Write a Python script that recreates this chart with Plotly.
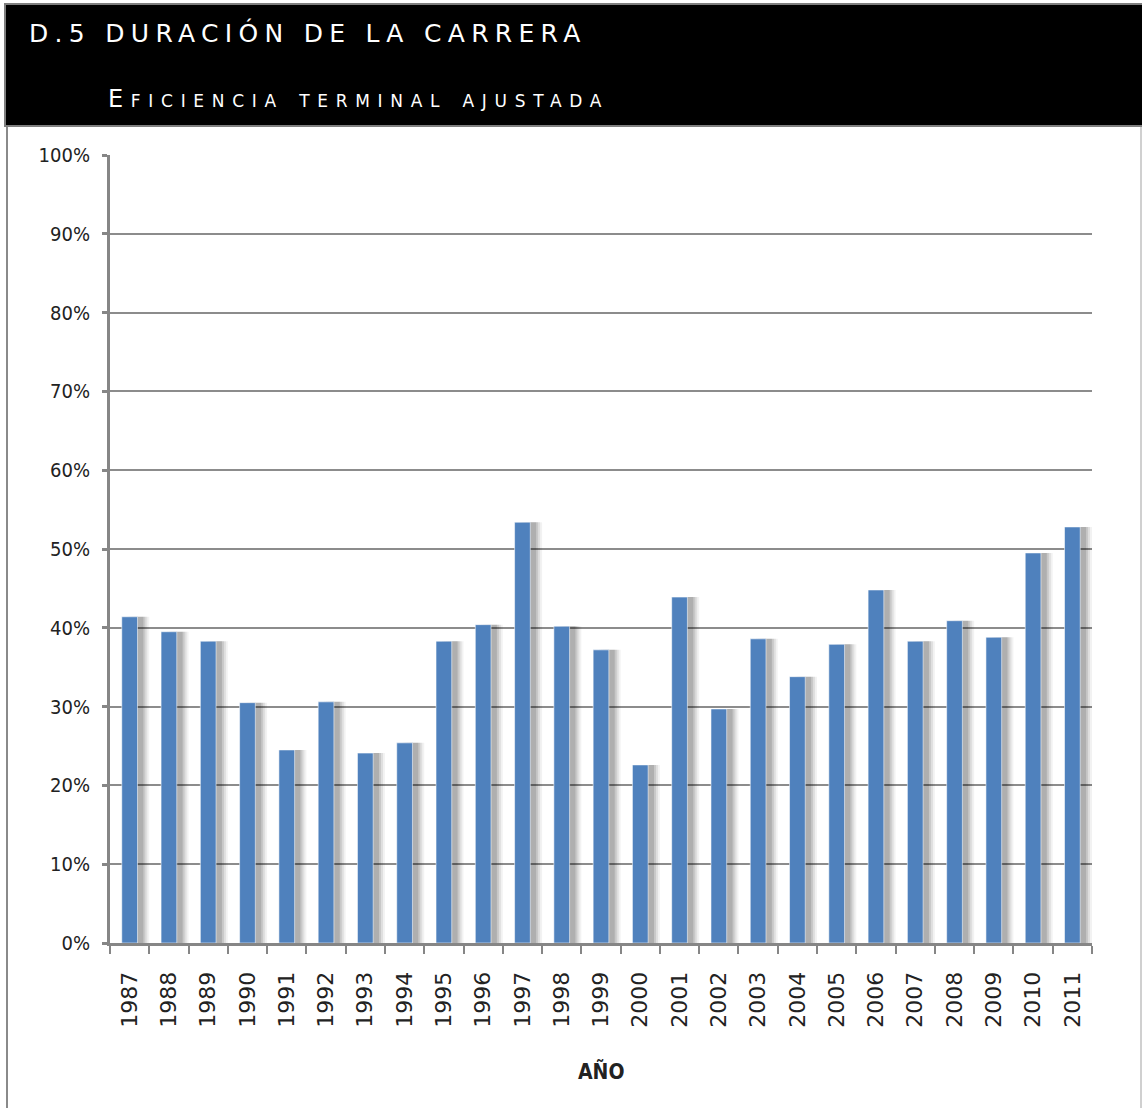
import plotly.graph_objects as go

years = ["1987", "1988", "1989", "1990", "1991", "1992", "1993", "1994", "1995", "1996",
         "1997", "1998", "1999", "2000", "2001", "2002", "2003", "2004", "2005", "2006",
         "2007", "2008", "2009", "2010", "2011"]
eficiencia = [0.414, 0.395, 0.383, 0.305, 0.245, 0.306, 0.241, 0.254, 0.383, 0.404,
              0.534, 0.402, 0.372, 0.226, 0.439, 0.297, 0.386, 0.338, 0.379, 0.448,
              0.383, 0.409, 0.388, 0.495, 0.528]
y_ticks = [0, 0.1, 0.2, 0.3, 0.4, 0.5, 0.6, 0.7, 0.8, 0.9, 1.0]

title_text = "D.5 DURACIÓN DE LA CARRERA"
subtitle_text = "Eficiencia terminal ajustada"
x_title = "AÑO"

W, H = 1142, 1108
L, R, T, B = 110, 1092, 155, 943  # plot area in pixels


def px(x):
    return (x - L) / (R - L)


def py(y):
    return (B - y) / (B - T)


BLUE = "#4F81BD"
GRID = "#8c8c8c"
AXIS = "#868686"

fig = go.Figure()

# soft shadows on the right of the bars
for off, alpha in [(0.30, 0.05), (0.25, 0.08), (0.20, 0.10), (0.15, 0.12)]:
    fig.add_trace(go.Bar(
        x=years, y=eficiencia, width=0.4, offset=-0.2 + off,
        marker=dict(color=f"rgba(0,0,0,{alpha})", line=dict(width=0)),
        hoverinfo="skip", showlegend=False,
    ))

fig.add_trace(go.Bar(
    x=years, y=eficiencia, width=0.4, offset=-0.2,
    marker=dict(color=BLUE, line=dict(color="rgba(255,255,255,0.55)", width=1)),
    showlegend=False, name="Eficiencia terminal ajustada",
))

fig.update_layout(
    width=W, height=H,
    margin=dict(l=L, r=W - R, t=T, b=H - B, pad=0),
    paper_bgcolor="white", plot_bgcolor="white",
    barmode="overlay",
    font=dict(family="DejaVu Sans Condensed, DejaVu Sans", color="#222"),
    xaxis=dict(
        type="category", tickangle=-90,
        tickfont=dict(family="DejaVu Sans", size=22, color="#222"),
        showline=True, linecolor=AXIS, linewidth=3,
        ticks="outside", tickson="boundaries", ticklen=8, tickwidth=2, tickcolor=AXIS,
        showgrid=False, ticklabelstandoff=17,
        range=[-0.5, 24.5],
    ),
    yaxis=dict(
        range=[0, 1], tickvals=y_ticks, tickformat=".0%",
        tickfont=dict(family="DejaVu Sans Condensed, DejaVu Sans", size=20, color="#222"),
        showline=True, linecolor=AXIS, linewidth=3,
        ticks="outside", ticklen=5, tickwidth=3, tickcolor=AXIS,
        showgrid=True, gridcolor=GRID, gridwidth=1.5,
        zeroline=False, ticklabelstandoff=8,
    ),
    shapes=[
        # black header band
        dict(type="rect", xref="paper", yref="paper",
             x0=px(5), x1=px(1144), y0=py(126), y1=py(4),
             fillcolor="black", line=dict(color="#7f7f7f", width=2), layer="above"),
        # frame lines
        dict(type="line", xref="paper", yref="paper",
             x0=px(7), x1=px(7), y0=py(127), y1=py(1110),
             line=dict(color="#8a8a8a", width=2)),
        dict(type="line", xref="paper", yref="paper",
             x0=px(1141), x1=px(1141), y0=py(127), y1=py(1110),
             line=dict(color="#d0d0d0", width=2)),
    ],
    annotations=[
        dict(text=f'<span style="letter-spacing:6.3px">{title_text}</span>',
             xref="paper", yref="paper", x=px(27), y=py(33),
             xanchor="left", yanchor="middle", showarrow=False,
             font=dict(family="DejaVu Sans", size=25, color="white")),
        dict(text=f'<span style="letter-spacing:7.7px">{subtitle_text}</span>',
             xref="paper", yref="paper", x=px(106), y=py(99),
             xanchor="left", yanchor="middle", showarrow=False,
             font=dict(family="DejaVu Sans", size=24, color="white", variant="small-caps")),
        dict(text=f"<b>{x_title}</b>",
             xref="paper", yref="paper", x=px(601), y=py(1071),
             xanchor="center", yanchor="middle", showarrow=False,
             font=dict(family="DejaVu Sans Condensed, DejaVu Sans", size=21, color="#222")),
    ],
)

fig.write_html("out.html", config={"displayModeBar": False},
               post_script="document.body.style.margin='0px';")
